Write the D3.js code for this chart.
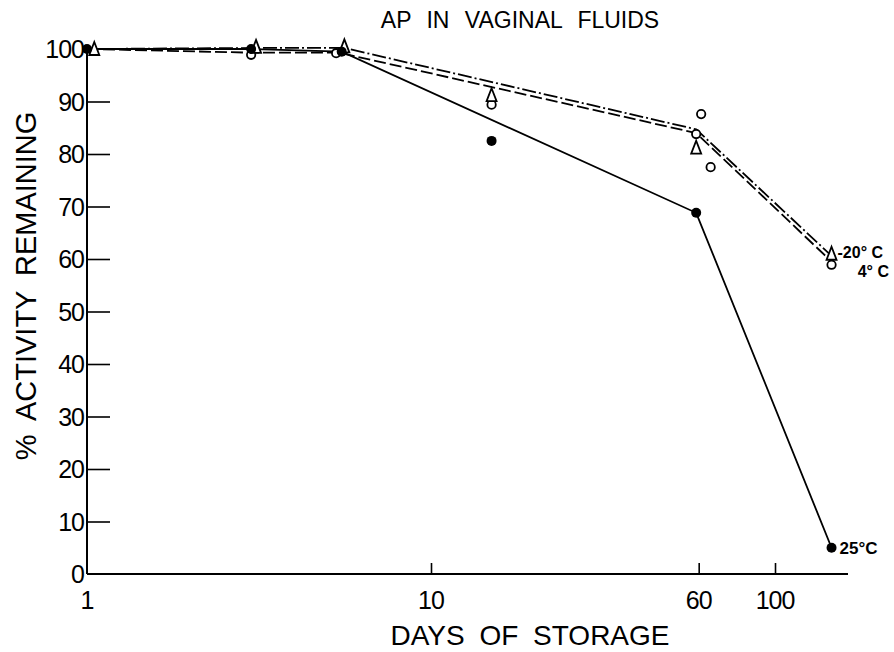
<!DOCTYPE html>
<html>
<head>
<meta charset="utf-8">
<script src="https://cdn.jsdelivr.net/npm/d3@7"></script>
<style>
  body { margin: 0; background: #fff; }
  text { font-family: "Liberation Sans", "DejaVu Sans", sans-serif; fill: #000; }
</style>
</head>
<body>
<div id="chart"></div>
<script>
// data //
var xTicks = [1, 10, 60, 100];
var yTicks = [0, 10, 20, 30, 40, 50, 60, 70, 80, 90, 100];

// 25 C : filled circles, solid line
var days25 = [1, 3, 5.5, 15, 59, 146];
var vals25 = [100, 100, 99.5, 82.5, 68.8, 5];
var lineDays25 = [1, 3, 5.5, 59, 146];
var lineVals25 = [100, 100, 99.5, 68.8, 5];

// 4 C : open circles, dashed line
var days4 = [3, 5.3, 15, 61, 59, 65, 146];
var vals4 = [98.9, 99.2, 89.4, 87.6, 83.8, 77.5, 58.9];
var lineDays4 = [1, 3, 5.4, 59, 146];
var lineVals4 = [100, 99.3, 99.3, 84, 59.5];

// -20 C : triangles, dash-dot line
var daysM20 = [1.05, 3.1, 5.6, 15, 59, 146];
var valsM20 = [100, 100.4, 100.5, 91.2, 81.2, 61];
var lineDaysM20 = [1, 3.1, 5.6, 59, 146];
var lineValsM20 = [100, 100.2, 100.2, 84.7, 60.6];

function zip(a, b) {
  return a.map(function(d, i) { return {x: d, y: b[i]}; });
}

var W = 894, H = 652;
var svg = d3.select('#chart').append('svg')
  .attr('width', W)
  .attr('height', H);

// scales
var x = d3.scaleLog().domain([1, 163]).range([87, 848]);
var y = d3.scaleLinear().domain([0, 100]).range([574, 49]);

// title
svg.append('text')
  .attr('x', 520).attr('y', 28)
  .attr('text-anchor', 'middle')
  .style('font-size', '23px')
  .style('word-spacing', '9px')
  .text('AP IN VAGINAL FLUIDS');

// y axis
var yAxis = svg.append('g')
  .attr('transform', 'translate(' + x(1) + ',0)')
  .call(d3.axisRight(y).tickValues(yTicks).tickSize(23).tickFormat(''));
yAxis.select('.domain').attr('d', 'M0,45V574').attr('stroke-width', 2);
yAxis.selectAll('.tick line').attr('stroke-width', 1.6)
  .filter(function(d) { return d === 0 || d === 100; }).remove();
svg.append('g').selectAll('text')
  .data(yTicks)
  .enter().append('text')
  .attr('x', 84)
  .attr('y', function(d) { return y(d); })
  .attr('dy', '0.36em')
  .attr('text-anchor', 'end')
  .style('font-size', '25px')
  .style('letter-spacing', '-1px')
  .text(function(d) { return d; });

// x axis
var xAxis = svg.append('g')
  .attr('transform', 'translate(0,' + y(0) + ')')
  .call(d3.axisTop(x).tickValues(xTicks.slice(1)).tickSize(11).tickFormat(''));
xAxis.select('.domain').attr('d', 'M' + x(1) + ',0H848').attr('stroke-width', 2);
xAxis.selectAll('.tick line').attr('stroke-width', 1.6);
svg.append('g').selectAll('text')
  .data(xTicks)
  .enter().append('text')
  .attr('x', function(d) { return x(d); })
  .attr('y', 609)
  .attr('text-anchor', 'middle')
  .style('font-size', '25px')
  .style('letter-spacing', '-1px')
  .text(function(d) { return d; });

// axis labels
svg.append('text')
  .attr('x', 530).attr('y', 645)
  .attr('text-anchor', 'middle')
  .style('font-size', '28px')
  .style('word-spacing', '7px')
  .text('DAYS OF STORAGE');

svg.append('text')
  .attr('transform', 'translate(36,' + 286 + ') rotate(-90)')
  .attr('text-anchor', 'middle')
  .style('font-size', '29px')
  .style('word-spacing', '7px')
  .text('% ACTIVITY REMAINING');

// lines
var line = d3.line()
  .x(function(d) { return x(d.x); })
  .y(function(d) { return y(d.y); });

svg.append('path')
  .datum(zip(lineDays25, lineVals25))
  .attr('d', line)
  .attr('fill', 'none')
  .attr('stroke', '#000')
  .attr('stroke-width', 1.8);

svg.append('path')
  .datum(zip(lineDays4, lineVals4))
  .attr('d', line)
  .attr('fill', 'none')
  .attr('stroke', '#000')
  .attr('stroke-width', 1.8)
  .attr('stroke-dasharray', '12,4');

svg.append('path')
  .datum(zip(lineDaysM20, lineValsM20))
  .attr('d', line)
  .attr('fill', 'none')
  .attr('stroke', '#000')
  .attr('stroke-width', 1.8)
  .attr('stroke-dasharray', '14,3,2,3');

// markers
svg.append('g').selectAll('circle')
  .data(zip(days4, vals4))
  .enter().append('circle')
  .attr('cx', function(d) { return x(d.x); })
  .attr('cy', function(d) { return y(d.y); })
  .attr('r', 4.2)
  .attr('fill', '#fff')
  .attr('stroke', '#000')
  .attr('stroke-width', 1.8);

svg.append('g').selectAll('path')
  .data(zip(daysM20, valsM20))
  .enter().append('path')
  .attr('d', function(d) {
    var cx = x(d.x), cy = y(d.y);
    return 'M' + cx + ',' + (cy - 7) + 'L' + (cx + 5) + ',' + (cy + 6) + 'L' + (cx - 5) + ',' + (cy + 6) + 'Z';
  })
  .attr('fill', '#fff')
  .attr('stroke', '#000')
  .attr('stroke-width', 1.8);

svg.append('g').selectAll('circle')
  .data(zip(days25, vals25))
  .enter().append('circle')
  .attr('cx', function(d) { return x(d.x); })
  .attr('cy', function(d) { return y(d.y); })
  .attr('r', 5)
  .attr('fill', '#000');

// series labels
svg.append('text')
  .attr('x', x(146) + 6).attr('y', y(61) + 4)
  .style('font-size', '16px').style('font-weight', 'bold')
  .text('-20° C');
svg.append('text')
  .attr('x', 889).attr('y', y(61) + 23)
  .attr('text-anchor', 'end')
  .style('font-size', '16px').style('font-weight', 'bold')
  .text('4° C');
svg.append('text')
  .attr('x', x(146) + 8).attr('y', y(5) + 6)
  .style('font-size', '17px').style('font-weight', 'bold')
  .text('25°C');
</script>
</body>
</html>
